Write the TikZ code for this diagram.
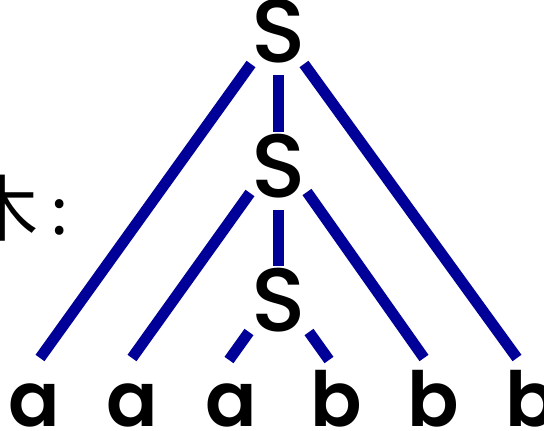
\documentclass[tikz,border=0pt]{standalone}
\usepackage{fontspec}
\newfontfamily\labfont{Poppins SemiBold}
\newfontfamily\symfont{Poppins Medium}
\newfontfamily\cjk{Noto Sans CJK SC}
\definecolor{treeblue}{RGB}{0,0,153}
\begin{document}
\begin{tikzpicture}[x=1pt,y=-1pt,
  sym/.style={inner sep=0pt, anchor=base, font=\symfont\fontsize{90}{90}\selectfont},
  leaf/.style={inner sep=0pt, anchor=base, font=\labfont\fontsize{76}{76}\selectfont},
  branch/.style={draw=treeblue, line width=11pt, line cap=butt}]
\useasboundingbox (0,0) rectangle (544,431);
% label
\node[inner sep=0pt, anchor=base, font=\cjk\fontsize{72}{72}\selectfont] (lbl) at (3,235) {木};
\node[inner sep=0pt, anchor=base, font=\cjk\fontsize{66}{66}\selectfont] (colon) at (60,234) {:};
% nonterminals
\node[sym] (s1) at (279,62) {S};
\node[sym] (s2) at (279,197) {S};
\node[sym] (s3) at (279,331) {S};
% leaves
\node[leaf] (a1) at (34,426) {a};
\node[leaf] (a2) at (132,426) {a};
\node[leaf] (a3) at (231,426) {a};
\node[leaf] (b1) at (336,426) {b};
\node[leaf] (b2) at (433,426) {b};
\node[leaf] (b3) at (531,426) {b};
% connector end points
\coordinate (s1l) at (251,64);  \coordinate (a1t) at (40,358);
\coordinate (s1m) at (278.5,75); \coordinate (s2t) at (278.5,132);
\coordinate (s1r) at (304,64);  \coordinate (b3t) at (517,358);
\coordinate (s2l) at (250,193); \coordinate (a2t) at (132,358);
\coordinate (s2m) at (278.5,210); \coordinate (s3t) at (278.5,266);
\coordinate (s2r) at (307,192); \coordinate (b2t) at (424,358);
\coordinate (s3l) at (249,332); \coordinate (a3t) at (229,360);
\coordinate (s3r) at (309,332); \coordinate (b1t) at (329,360);
\draw[branch] (s1l) -- (a1t);
\draw[branch] (s1m) -- (s2t);
\draw[branch] (s1r) -- (b3t);
\draw[branch] (s2l) -- (a2t);
\draw[branch] (s2m) -- (s3t);
\draw[branch] (s2r) -- (b2t);
\draw[branch] (s3l) -- (a3t);
\draw[branch] (s3r) -- (b1t);
\end{tikzpicture}
\end{document}
